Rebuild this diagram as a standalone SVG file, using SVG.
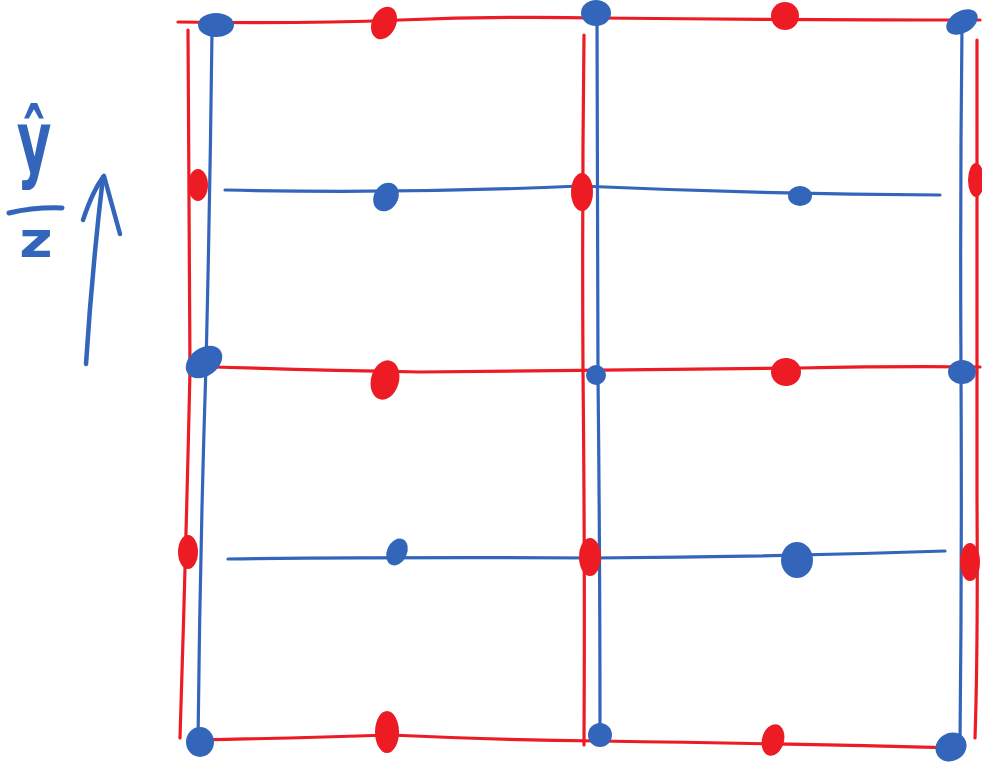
<svg xmlns="http://www.w3.org/2000/svg" width="982" height="768" viewBox="0 0 982 768">
<style>
.r{fill:none;stroke:#ED1C24;stroke-width:3.2;stroke-linecap:round;stroke-linejoin:round}
.b{fill:none;stroke:#3366BB;stroke-width:3.2;stroke-linecap:round;stroke-linejoin:round}
.rd{fill:#ED1C24}
.bd{fill:#3366BB}
.lbl{fill:#3366BB;font-family:"DejaVu Sans",sans-serif;text-anchor:middle;font-weight:bold}
</style>
<rect width="982" height="768" fill="#fff"/>
<g id="label">
<text class="lbl" transform="translate(34,172) scale(0.62,1)" font-size="86">ŷ</text>
<path class="b" d="M9,213 Q35,207 62,208" style="stroke-width:5"/>
<text class="lbl" transform="translate(36,257) scale(1.15,1)" font-size="50">z</text>
<path class="b" d="M86,364 Q92,270 103,177" style="stroke-width:4.5"/>
<path class="b" d="M83,220 Q93,190 104,176 Q112,205 120,234" style="stroke-width:4.5"/>
</g>
<g id="connectors">
<path class="r" d="M178,22 Q300,24 400,20 Q500,16 600,18 Q800,20 980,20"/>
<path class="r" d="M188,366 Q300,370 420,372 Q600,370 800,368 Q900,366 980,367"/>
<path class="r" d="M195,740 Q300,738 390,735 Q500,740 600,741 Q800,744 960,748"/>
<path class="r" d="M188,30 Q189,200 190,370 Q186,550 180,738"/>
<path class="r" d="M584,35 Q582,200 583,370 Q585,560 584,745"/>
<path class="r" d="M977,40 Q976,300 977,500 Q978,650 975,738"/>
<path class="b" d="M212,32 Q210,200 206,365 Q200,550 198,742"/>
<path class="b" d="M597,15 Q598,200 598,375 Q600,560 600,735"/>
<path class="b" d="M962,25 Q960,200 961,372 Q962,560 960,745"/>
<path class="b" d="M225,190 Q400,194 580,186 Q760,194 940,195"/>
<path class="b" d="M228,559 Q400,557 595,558 Q770,557 945,551"/>
</g>
<g id="blue-dots">
<ellipse class="bd" cx="216" cy="25" rx="18" ry="12"/>
<ellipse class="bd" cx="596" cy="13" rx="15" ry="13"/>
<ellipse class="bd" cx="962" cy="22" rx="17" ry="11" transform="rotate(-30 962 22)"/>
<ellipse class="bd" cx="386" cy="197" rx="12" ry="15" transform="rotate(30 386 197)"/>
<ellipse class="bd" cx="800" cy="196" rx="12" ry="10"/>
<ellipse class="bd" cx="204" cy="362" rx="20" ry="14" transform="rotate(-35 204 362)"/>
<ellipse class="bd" cx="596" cy="375" rx="10" ry="10"/>
<ellipse class="bd" cx="962" cy="372" rx="14" ry="12"/>
<ellipse class="bd" cx="397" cy="552" rx="10" ry="14" transform="rotate(25 397 552)"/>
<ellipse class="bd" cx="797" cy="560" rx="16" ry="18"/>
<ellipse class="bd" cx="200" cy="742" rx="14" ry="15"/>
<ellipse class="bd" cx="600" cy="735" rx="12" ry="12"/>
<ellipse class="bd" cx="951" cy="747" rx="16" ry="14" transform="rotate(-30 951 747)"/>
</g>
<g id="red-dots">
<ellipse class="rd" cx="384" cy="23" rx="12" ry="17" transform="rotate(25 384 23)"/>
<ellipse class="rd" cx="785" cy="16" rx="14" ry="14"/>
<ellipse class="rd" cx="198" cy="185" rx="10" ry="16"/>
<ellipse class="rd" cx="582" cy="192" rx="11" ry="19"/>
<ellipse class="rd" cx="976" cy="180" rx="8" ry="17"/>
<ellipse class="rd" cx="385" cy="380" rx="14" ry="20" transform="rotate(15 385 380)"/>
<ellipse class="rd" cx="786" cy="372" rx="15" ry="14"/>
<ellipse class="rd" cx="188" cy="552" rx="10" ry="17"/>
<ellipse class="rd" cx="590" cy="557" rx="11" ry="19"/>
<ellipse class="rd" cx="970" cy="562" rx="10" ry="19"/>
<ellipse class="rd" cx="387" cy="732" rx="12" ry="21"/>
<ellipse class="rd" cx="773" cy="740" rx="11" ry="16" transform="rotate(15 773 740)"/>
</g>
</svg>
